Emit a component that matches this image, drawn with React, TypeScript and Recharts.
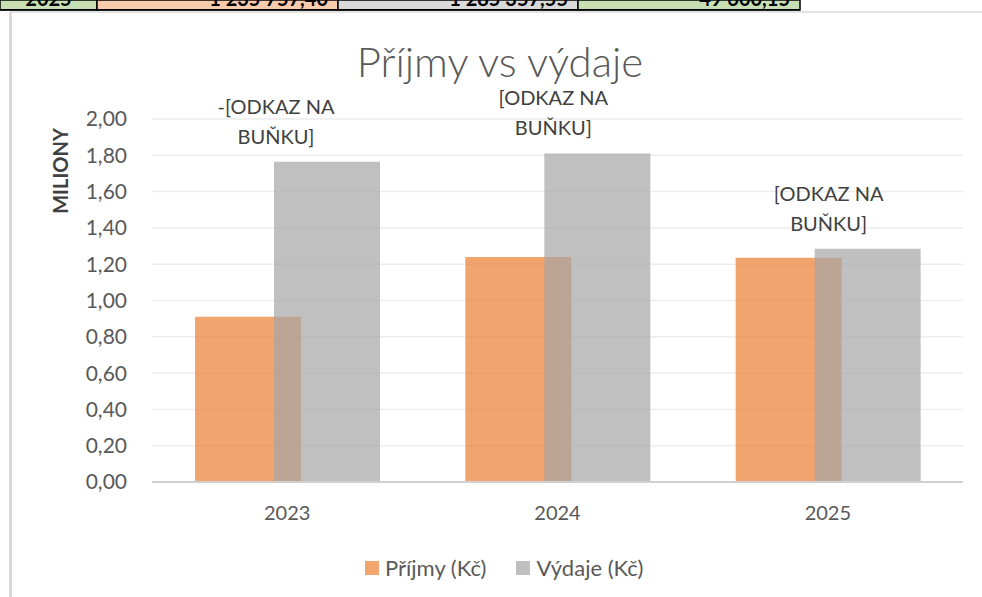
import React from 'react'
import { BarChart, Bar, XAxis, YAxis, CartesianGrid, LabelList } from 'recharts'

// hodnoty v milionech Kč
const roky = ['2023', '2024', '2025']
const prijmy = [0.91, 1.24, 1.235]
const vydaje = [1.765, 1.81, 1.285]
const stitkyPrvniRadek = ['-[ODKAZ NA', '[ODKAZ NA', '[ODKAZ NA']
const stitkyDruhyRadek = ['BUŇKU]', 'BUŇKU]', 'BUŇKU]']
const yTicks = [0, 0.2, 0.4, 0.6, 0.8, 1.0, 1.2, 1.4, 1.6, 1.8, 2.0]

// řádek tabulky nad grafem (uříznutý)
const bunky = [
  { text: '2025', fill: '#C6E0B4', x0: 0, x1: 97, align: 'middle' },
  { text: '1 235 757,40', fill: '#F8CBAD', x0: 97, x1: 338, align: 'end' },
  { text: '1 285 357,55', fill: '#D9D9D9', x0: 338, x1: 578, align: 'end' },
  { text: '49 600,15', fill: '#C6E0B4', x0: 578, x1: 800, align: 'end' },
]

const posunStitku = [-51, -44, -39]

const data = roky.map((rok, i) => ({
  rok,
  prijmy: prijmy[i],
  vydaje: vydaje[i],
}))

const FONT = 'Lato, "Open Sans", sans-serif'
const ORANZOVA = '#ED7D31'
const SEDA = '#A5A5A5'

function formatCislo(v: number) {
  return v.toFixed(2).replace('.', ',')
}

function Stitek(props: any) {
  const { x, y, width, index } = props
  const cx = x + width / 2 + posunStitku[index]
  return (
    <g>
      <text x={cx} y={y - 56} textAnchor="middle" dominantBaseline="central" fontSize={20} fill="#404040" fontFamily={FONT}>
        {stitkyPrvniRadek[index]}
      </text>
      <text x={cx} y={y - 26} textAnchor="middle" dominantBaseline="central" fontSize={20} fill="#404040" fontFamily={FONT}>
        {stitkyDruhyRadek[index]}
      </text>
    </g>
  )
}

function OsaPopisek() {
  return (
    <text
      x={60}
      y={171}
      transform="rotate(-90 60 171)"
      textAnchor="middle"
      dominantBaseline="central"
      fontSize={20}
      fontWeight={700}
      fill="#404040"
      fontFamily={FONT}
    >
      MILIONY
    </text>
  )
}

export default function App() {
  return (
    <div style={{ position: 'absolute', left: 0, top: 0, width: 982, height: 597, background: '#fff', overflow: 'hidden', fontFamily: FONT }}>
      <svg width={982} height={20} style={{ position: 'absolute', left: 0, top: 0 }}>
        <rect x={10} y={11} width={972} height={2} fill="#E3E3E3" />
        {bunky.map((b, i) => (
          <g key={i}>
            <rect x={b.x0} y={0} width={b.x1 - b.x0} height={10} fill={b.fill} stroke="#000" strokeWidth={1.5} />
            <text
              x={b.align === 'middle' ? (b.x0 + b.x1) / 2 : b.x1 - 10}
              y={6}
              textAnchor={b.align as any}
              fontSize={20}
              fontWeight={700}
              fill="#000"
              fontFamily={FONT}
            >
              {b.text}
            </text>
          </g>
        ))}
        <rect x={0} y={9} width={800} height={1.5} fill="#000" />
      </svg>
      <div style={{ position: 'absolute', left: 9, top: 12, width: 3, height: 585, background: '#D9D9D9' }} />

      <div style={{ position: 'absolute', left: 0, top: 36, width: 1000, textAlign: 'center', fontSize: 42, lineHeight: '50px', color: '#595959', fontWeight: 300 }}>
        Příjmy vs výdaje
      </div>

      <div style={{ position: 'absolute', left: 0, top: 0 }}>
        <BarChart width={982} height={597} data={data} margin={{ top: 119, right: 19, bottom: 85, left: 40 }} barSize={106} barGap={-27}>
          <CartesianGrid vertical={false} stroke="#EDEDED" strokeWidth={1.5} />
          <XAxis
            dataKey="rok"
            tickLine={false}
            axisLine={{ stroke: '#D0D0D0', strokeWidth: 2 }}
            tick={{ fontSize: 20, fill: '#595959', fontFamily: FONT }}
            tickSize={0}
            tickMargin={24}
          />
          <YAxis
            width={112}
            domain={[0, 2]}
            ticks={yTicks}
            tickFormatter={formatCislo}
            axisLine={false}
            tickLine={false}
            tickSize={0}
            tickMargin={25}
            tick={{ fontSize: 21, fill: '#595959', fontFamily: FONT }}
            label={<OsaPopisek />}
          />
          <Bar dataKey="prijmy" fill={ORANZOVA} fillOpacity={0.7} isAnimationActive={false} />
          <Bar dataKey="vydaje" fill={SEDA} fillOpacity={0.7} isAnimationActive={false}>
            <LabelList dataKey="vydaje" content={<Stitek />} />
          </Bar>
        </BarChart>
      </div>

      <div style={{ position: 'absolute', left: 365, top: 554, display: 'flex', alignItems: 'center', fontSize: 22, color: '#595959' }}>
        <span style={{ width: 14, height: 14, background: ORANZOVA, opacity: 0.7, marginRight: 6 }} />
        <span>Příjmy (Kč)</span>
        <span style={{ width: 14, height: 14, background: SEDA, opacity: 0.7, marginLeft: 30, marginRight: 6 }} />
        <span>Výdaje (Kč)</span>
      </div>
    </div>
  )
}
